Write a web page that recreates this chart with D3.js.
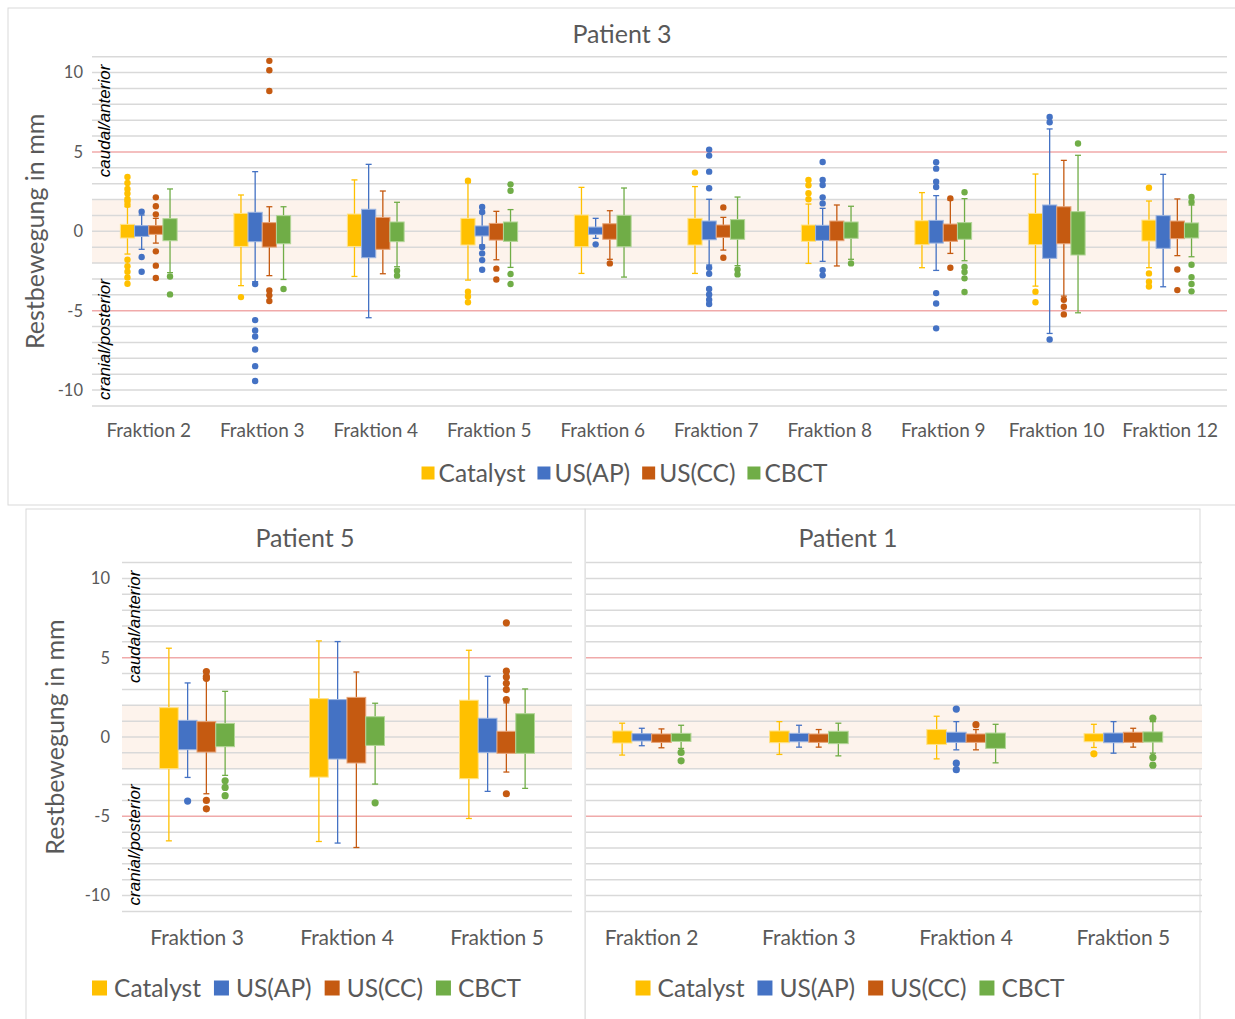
<!DOCTYPE html>
<html>
<head>
<meta charset="utf-8">
<script src="https://cdn.jsdelivr.net/npm/d3@7"></script>
<style>
  body { margin: 0; background: #fff; }
  svg { display: block; }
  text { font-family: Lato, "Open Sans", sans-serif; fill: #595959; }
  .anno { font-family: "Liberation Sans", Arial, sans-serif; font-style: italic; fill: #000; }
</style>
</head>
<body>
<div id="chart"></div>
<script>
// Series shared by all three panels.
const SERIES = ["Catalyst", "US(AP)", "US(CC)", "CBCT"];
const COLORS = ["#FFC000", "#4472C4", "#C55A11", "#70AD47"];
const TINTS  = ["#FFE38A", "#9DB5E0", "#E7A57A", "#B2D597"];
const yTicks = [-10, -5, 0, 5, 10];

// Each entry: [whisker low, Q1, Q3, whisker high, [outliers]]
// Patient 3
const p3Fractions = ["Fraktion 2", "Fraktion 3", "Fraktion 4", "Fraktion 5", "Fraktion 6",
                     "Fraktion 7", "Fraktion 8", "Fraktion 9", "Fraktion 10", "Fraktion 12"];
const p3Catalyst = [
  [-1.43, -0.42, 0.44, 1.55, [3.42, 3.05, 2.67, 2.38, 2.04, 1.89, 1.68, -1.79, -2.2, -2.54, -2.9, -3.3]],
  [-3.42, -0.95, 1.13, 2.29, [-4.14]],
  [-2.84, -0.95, 1.09, 3.24, []],
  [-3.07, -0.86, 0.82, 3.07, [3.19, -3.8, -4.1, -4.47]],
  [-2.65, -0.97, 1.03, 2.77, []],
  [-2.65, -0.86, 0.82, 2.82, [3.7]],
  [-2.02, -0.63, 0.4, 1.72, [3.24, 2.9, 2.4, 2.02]],
  [-2.29, -0.84, 0.67, 2.44, []],
  [-3.45, -0.84, 1.13, 3.61, [-3.8, -4.47]],
  [-2.29, -0.61, 0.71, 1.91, [2.75, -2.65, -3.17, -3.47]]
];
const p3USAP = [
  [-1.13, -0.32, 0.36, 1.03, [1.24, -1.62, -2.54]],
  [-3.17, -0.65, 1.2, 3.76, [-3.32, -5.59, -6.24, -6.62, -7.44, -8.49, -9.43]],
  [-5.44, -1.66, 1.39, 4.22, []],
  [-0.86, -0.29, 0.34, 1.13, [1.53, 1.22, -0.99, -1.39, -1.81, -2.42]],
  [-0.44, -0.19, 0.27, 0.82, [-0.82]],
  [-2.12, -0.53, 0.65, 2.02, [5.15, 4.77, 3.76, 2.71, -2.29, -2.67, -3.63, -3.97, -4.31, -4.58]],
  [-1.89, -0.57, 0.38, 1.45, [4.37, 3.24, 2.92, 2.14, 1.76, -2.44, -2.77]],
  [-2.46, -0.74, 0.69, 2.25, [4.35, 3.95, 3.13, 2.79, -3.89, -4.54, -6.11]],
  [-6.43, -1.7, 1.66, 6.45, [7.2, 6.87, -6.81]],
  [-3.49, -1.07, 0.99, 3.59, []]
];
const p3USCC = [
  [-0.74, -0.19, 0.36, 0.82, [2.14, 1.58, 1.07, -1.26, -2.16, -2.94]],
  [-2.79, -0.99, 0.55, 1.55, [10.74, 10.15, 8.84, -3.72, -4.03, -4.39]],
  [-2.67, -1.13, 0.88, 2.54, []],
  [-1.79, -0.55, 0.5, 1.26, [-2.35, -3.03]],
  [-1.76, -0.5, 0.48, 1.3, [-2.02]],
  [-1.18, -0.38, 0.4, 0.88, [1.51, -1.66]],
  [-2.18, -0.59, 0.65, 1.66, []],
  [-1.39, -0.63, 0.46, 1.97, [2.08, -2.29]],
  [-4.08, -0.78, 1.55, 4.47, [-4.31, -4.75, -5.23]],
  [-1.53, -0.46, 0.65, 2.04, [-2.4, -3.7]]
];
const p3CBCT = [
  [-2.6, -0.59, 0.8, 2.67, [-2.84, -3.97]],
  [-3.03, -0.78, 0.99, 1.55, [-3.63]],
  [-2.23, -0.65, 0.59, 1.83, [-2.48, -2.79]],
  [-2.27, -0.63, 0.59, 1.37, [2.96, 2.56, -2.69, -3.32]],
  [-2.88, -0.97, 1.01, 2.73, []],
  [-2.16, -0.5, 0.74, 2.16, [-2.4, -2.71]],
  [-1.76, -0.44, 0.59, 1.58, [-2.02]],
  [-1.85, -0.5, 0.55, 2.06, [2.46, -2.25, -2.56, -2.96, -3.82]],
  [-5.13, -1.49, 1.24, 4.79, [5.53]],
  [-1.6, -0.42, 0.53, 1.66, [2.16, 1.85, -2.1, -2.88, -3.32, -3.78]]
];

// Patient 5
const p5Fractions = ["Fraktion 3", "Fraktion 4", "Fraktion 5"];
const p5Catalyst = [[-6.55, -2.0, 1.85, 5.6, []], [-6.59, -2.53, 2.42, 6.06, []], [-5.14, -2.63, 2.32, 5.47, []]];
const p5USAP = [[-2.55, -0.8, 1.05, 3.41, [-4.04]], [-6.69, -1.39, 2.36, 6.02, []], [-3.43, -0.97, 1.18, 3.83, []]];
const p5USCC = [[-3.58, -0.95, 0.97, 3.62, [4.13, 3.81, 3.7, -4.0, -4.53]], [-6.97, -1.64, 2.5, 4.1, []],
                [-2.21, -1.03, 0.36, 2.15, [7.2, 4.15, 3.79, 3.39, 2.99, 2.36, -3.58]]];
const p5CBCT = [[-2.42, -0.61, 0.86, 2.88, [-2.76, -3.18, -3.7]], [-2.97, -0.53, 1.28, 2.13, [-4.15]], [-3.24, -1.03, 1.47, 3.03, []]];

// Patient 1
const p1Fractions = ["Fraktion 2", "Fraktion 3", "Fraktion 4", "Fraktion 5"];
const p1Catalyst = [[-1.14, -0.38, 0.38, 0.87, []], [-1.1, -0.36, 0.38, 0.97, []], [-1.38, -0.47, 0.47, 1.31, []], [-0.66, -0.3, 0.21, 0.8, [-1.06]]];
const p1USAP = [[-0.55, -0.25, 0.21, 0.55, []], [-0.64, -0.3, 0.23, 0.74, []], [-0.81, -0.34, 0.3, 0.97, [1.76, -1.65, -2.06]], [-1.02, -0.36, 0.25, 0.97, []]];
const p1USCC = [[-0.68, -0.34, 0.19, 0.51, []], [-0.64, -0.34, 0.19, 0.47, []], [-0.81, -0.34, 0.19, 0.47, [0.78]], [-0.64, -0.34, 0.3, 0.55, []]];
const p1CBCT = [[-0.72, -0.28, 0.23, 0.74, [-0.97, -1.5]], [-1.19, -0.42, 0.36, 0.87, []], [-1.63, -0.72, 0.25, 0.8, []], [-1.02, -0.32, 0.32, 0.97, [1.19, -1.29, -1.78]]];


const W = 1235, H = 1019;
let svg = d3.select("#chart").append("svg")
    .attr("width", W)
    .attr("height", H);

// Panel frames
function frame(x0, y0, x1, y1) {
  svg.append("rect")
    .attr("x", x0).attr("y", y0)
    .attr("width", x1 - x0).attr("height", y1 - y0)
    .attr("fill", "#fff")
    .attr("stroke", "#d9d9d9");
}

let clipId = 0;

function drawPanel(p) {
  const g = svg.append("g");
  let plot = g;
  if (p.clipLeft != null) {
    const id = "clip" + (clipId++);
    svg.append("clipPath").attr("id", id)
      .append("rect")
      .attr("x", p.clipLeft).attr("y", 0)
      .attr("width", W - p.clipLeft).attr("height", H);
    plot = g.append("g").attr("clip-path", "url(#" + id + ")");
  }

  const y = d3.scaleLinear().domain([-11, 11]).range([p.bottom, p.top]);
  const x = d3.scaleBand().domain(p.cats).range([p.left, p.right]).paddingInner(0);
  const inner = d3.scaleBand().domain(SERIES).range([0, x.bandwidth() * 0.5]);
  const off = x.bandwidth() * 0.25;

  // tolerance band and gridlines
  plot.append("rect")
    .attr("x", p.left).attr("y", y(2))
    .attr("width", p.right - p.left).attr("height", y(-2) - y(2))
    .attr("fill", "#fdf3ec");
  plot.append("g")
    .selectAll("line")
    .data(d3.range(-11, 12))
    .join("line")
      .attr("x1", p.left).attr("x2", p.right)
      .attr("y1", d => y(d)).attr("y2", d => y(d))
      .attr("stroke", d => Math.abs(d) === 5 ? "#f0aaaa" : "#d9d9d9")
      .attr("stroke-width", 1.5);

  // tick labels
  if (p.axis) {
    g.append("g")
      .selectAll("text")
      .data(yTicks)
      .join("text")
        .attr("x", p.left - p.tickGap)
        .attr("y", d => y(d))
        .attr("dy", "0.35em")
        .attr("text-anchor", "end")
        .style("font-size", "16.5px")
        .text(d => d);

    g.append("text")
      .attr("transform", "translate(" + p.titleX + "," + y(0) + ") rotate(-90)")
      .attr("text-anchor", "middle")
      .attr("dy", "0.35em")
      .style("font-size", "25px")
      .text("Restbewegung in mm");

    g.append("text")
      .attr("class", "anno")
      .attr("transform", "translate(" + (p.left + 12) + "," + (p.top + 8) + ") rotate(-90)")
      .attr("text-anchor", "end")
      .attr("dy", "0.35em")
      .style("font-size", "17px")
      .text("caudal/anterior");
    g.append("text")
      .attr("class", "anno")
      .attr("transform", "translate(" + (p.left + 12) + "," + (p.bottom - 6) + ") rotate(-90)")
      .attr("text-anchor", "start")
      .attr("dy", "0.35em")
      .style("font-size", "17px")
      .text("cranial/posterior");
  }

  // boxes
  SERIES.forEach((s, si) => {
    const sg = plot.append("g");
    const rows = p.series[si].map((d, i) => ({ cat: p.cats[i], lo: d[0], q1: d[1], q3: d[2], hi: d[3], out: d[4] }));
    const cx = d => x(d.cat) + off + inner(s) + inner.bandwidth() / 2;
    const cap = 3;

    sg.selectAll("line.whisk")
      .data(rows)
      .join("line")
        .attr("class", "whisk")
        .attr("x1", cx).attr("x2", cx)
        .attr("y1", d => y(d.hi)).attr("y2", d => y(d.lo))
        .attr("stroke", COLORS[si])
        .attr("stroke-width", 1.3);
    ["lo", "hi"].forEach(k => {
      sg.selectAll("line.cap" + k)
        .data(rows)
        .join("line")
          .attr("class", "cap" + k)
          .attr("x1", d => cx(d) - cap).attr("x2", d => cx(d) + cap)
          .attr("y1", d => y(d[k])).attr("y2", d => y(d[k]))
          .attr("stroke", COLORS[si])
          .attr("stroke-width", 1.3);
    });

    sg.selectAll("rect")
      .data(rows)
      .join("rect")
        .attr("x", d => x(d.cat) + off + inner(s))
        .attr("width", inner.bandwidth())
        .attr("y", d => y(d.q3))
        .attr("height", d => y(d.q1) - y(d.q3))
        .attr("fill", COLORS[si])
        .attr("stroke", TINTS[si])
        .attr("stroke-width", 1);

    sg.selectAll("circle")
      .data(rows.flatMap(d => d.out.map(v => ({ cat: d.cat, v: v }))))
      .join("circle")
        .attr("cx", cx)
        .attr("cy", d => y(d.v))
        .attr("r", p.dot)
        .attr("fill", COLORS[si]);
  });

  // category labels
  g.append("g")
    .selectAll("text")
    .data(p.cats)
    .join("text")
      .attr("x", d => x(d) + x.bandwidth() / 2)
      .attr("y", p.catY)
      .attr("dy", "0.35em")
      .attr("text-anchor", "middle")
      .style("font-size", p.catSize + "px")
      .text(d => d);

  // title
  g.append("text")
    .attr("x", p.titleCx).attr("y", p.titleY)
    .attr("dy", "0.35em")
    .attr("text-anchor", "middle")
    .style("font-size", "25px")
    .text(p.title);

  // legend
  const leg = g.append("g");
  const sq = p.legSq;
  let lx = 0;
  SERIES.forEach((s, si) => {
    leg.append("rect")
      .attr("x", lx).attr("y", -sq / 2)
      .attr("width", sq).attr("height", sq)
      .attr("fill", COLORS[si]);
    const t = leg.append("text")
      .attr("x", lx + sq + p.legGap).attr("y", 0)
      .attr("dy", "0.35em")
      .style("font-size", p.legSize + "px")
      .text(s);
    lx += sq + p.legGap + t.node().getComputedTextLength() + p.legSep;
  });
  lx -= p.legSep;
  leg.attr("transform", "translate(" + (p.legCx - lx / 2) + "," + p.legY + ")");
}

// Patient 3
frame(8, 8, 1240, 505);
drawPanel({
  title: "Patient 3", titleCx: 622, titleY: 34,
  cats: p3Fractions, series: [p3Catalyst, p3USAP, p3USCC, p3CBCT],
  left: 92, right: 1227, top: 56.7, bottom: 406,
  axis: true, tickGap: 9, titleX: 35,
  catY: 430, catSize: 19,
  legCx: 624.5, legY: 473, legSize: 24.5, legSq: 13, legGap: 4, legSep: 12,
  dot: 3.2
});

// Patient 1 (partly hidden behind Patient 5 on the left)
frame(585, 509, 1200, 1030);
drawPanel({
  title: "Patient 1", titleCx: 848, titleY: 538,
  cats: p1Fractions, series: [p1Catalyst, p1USAP, p1USCC, p1CBCT],
  left: 573, right: 1202, top: 562.6, bottom: 911.4, clipLeft: 586,
  axis: false,
  catY: 938, catSize: 21,
  legCx: 850, legY: 988, legSize: 24.5, legSq: 15, legGap: 7, legSep: 13,
  dot: 3.6
});

// Patient 5
frame(26, 509, 585, 1030);
drawPanel({
  title: "Patient 5", titleCx: 305, titleY: 538,
  cats: p5Fractions, series: [p5Catalyst, p5USAP, p5USCC, p5CBCT],
  left: 122, right: 572, top: 562.6, bottom: 911.4,
  axis: true, tickGap: 12, titleX: 55,
  catY: 938, catSize: 21,
  legCx: 306.5, legY: 988, legSize: 24.5, legSq: 15, legGap: 7, legSep: 13,
  dot: 3.6
});
</script>
</body>
</html>
